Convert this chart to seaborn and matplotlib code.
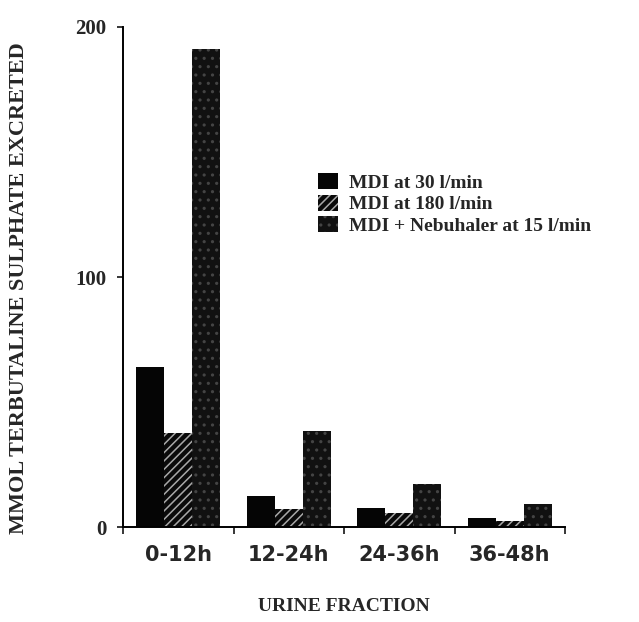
import pandas as pd
import matplotlib.pyplot as plt
import seaborn as sns

fractions = ["0-12h", "12-24h", "24-36h", "36-48h"]
series = ["MDI at 30 l/min", "MDI at 180 l/min", "MDI + Nebuhaler at 15 l/min"]
mdi_30 = [64, 12.5, 7.8, 3.7]
mdi_180 = [37.5, 7.4, 5.7, 2.3]
mdi_neb = [191, 38.4, 17.4, 9.4]

df = pd.DataFrame({
    "fraction": fractions * 3,
    "device": [series[0]] * 4 + [series[1]] * 4 + [series[2]] * 4,
    "value": mdi_30 + mdi_180 + mdi_neb,
})

sns.set_style("ticks")
plt.rcParams["hatch.linewidth"] = 1.1

fig = plt.figure(figsize=(6.39, 6.22), dpi=100)
ax = fig.add_axes([0.1925, 0.1527, 0.6917, 0.8039])

sns.barplot(
    data=df, x="fraction", y="value", hue="device",
    palette=["#050505", "#0a0a0a", "#111111"],
    width=0.76, dodge=True, legend=False, ax=ax,
    saturation=1, linewidth=0,
)

# patterns: plain black, light diagonal hatch, stippled
styles = [(None, "#050505"), ("////", "#a8a8a8"), ("..", "#444444")]
for cont, (hatch, ec) in zip(ax.containers, styles):
    for bar in cont:
        bar.set_hatch(hatch)
        bar.set_edgecolor(ec)
        bar.set_linewidth(0)

ax.set_xlim(-0.5, 3.5)
ax.set_ylim(0, 200)
ax.set_yticks([0, 100, 200])
ax.set_xticks([-0.5, 0.5, 1.5, 2.5, 3.5], minor=True)
ax.tick_params(axis="x", which="major", length=0, pad=13)
ax.tick_params(axis="x", which="minor", length=5, width=1.3, direction="out")
ax.tick_params(axis="y", length=4, width=1.3, pad=8)
sns.despine(ax=ax)
for s in ["left", "bottom"]:
    ax.spines[s].set_linewidth(1.4)
    ax.spines[s].set_color("black")

for lab in ax.get_xticklabels():
    lab.set_fontfamily("DejaVu Sans")
    lab.set_fontweight("bold")
    lab.set_fontsize(15)
for lab in ax.get_yticklabels():
    lab.set_fontfamily("Liberation Serif")
    lab.set_fontweight("bold")
    lab.set_fontsize(15)

ax.set_xlabel("URINE FRACTION", fontfamily="Liberation Serif",
              fontweight="bold", fontsize=14)
ax.xaxis.set_label_coords(0.5, -0.142)
ax.set_ylabel("MMOL TERBUTALINE SULPHATE EXCRETED", fontfamily="Liberation Serif",
              fontweight="bold", fontsize=16)
ax.yaxis.set_label_coords(-0.213, 0.478)

ax.legend(
    handles=ax.containers, labels=series, loc="upper left",
    bbox_to_anchor=(0.498, 0.722), bbox_transform=fig.transFigure,
    frameon=False, borderpad=0, borderaxespad=0,
    handlelength=1.0, handleheight=0.9, handletextpad=0.6,
    labelspacing=0.15,
    prop={"family": "Liberation Serif", "weight": "bold", "size": 14},
)

fig.savefig("out.png", dpi=100)
